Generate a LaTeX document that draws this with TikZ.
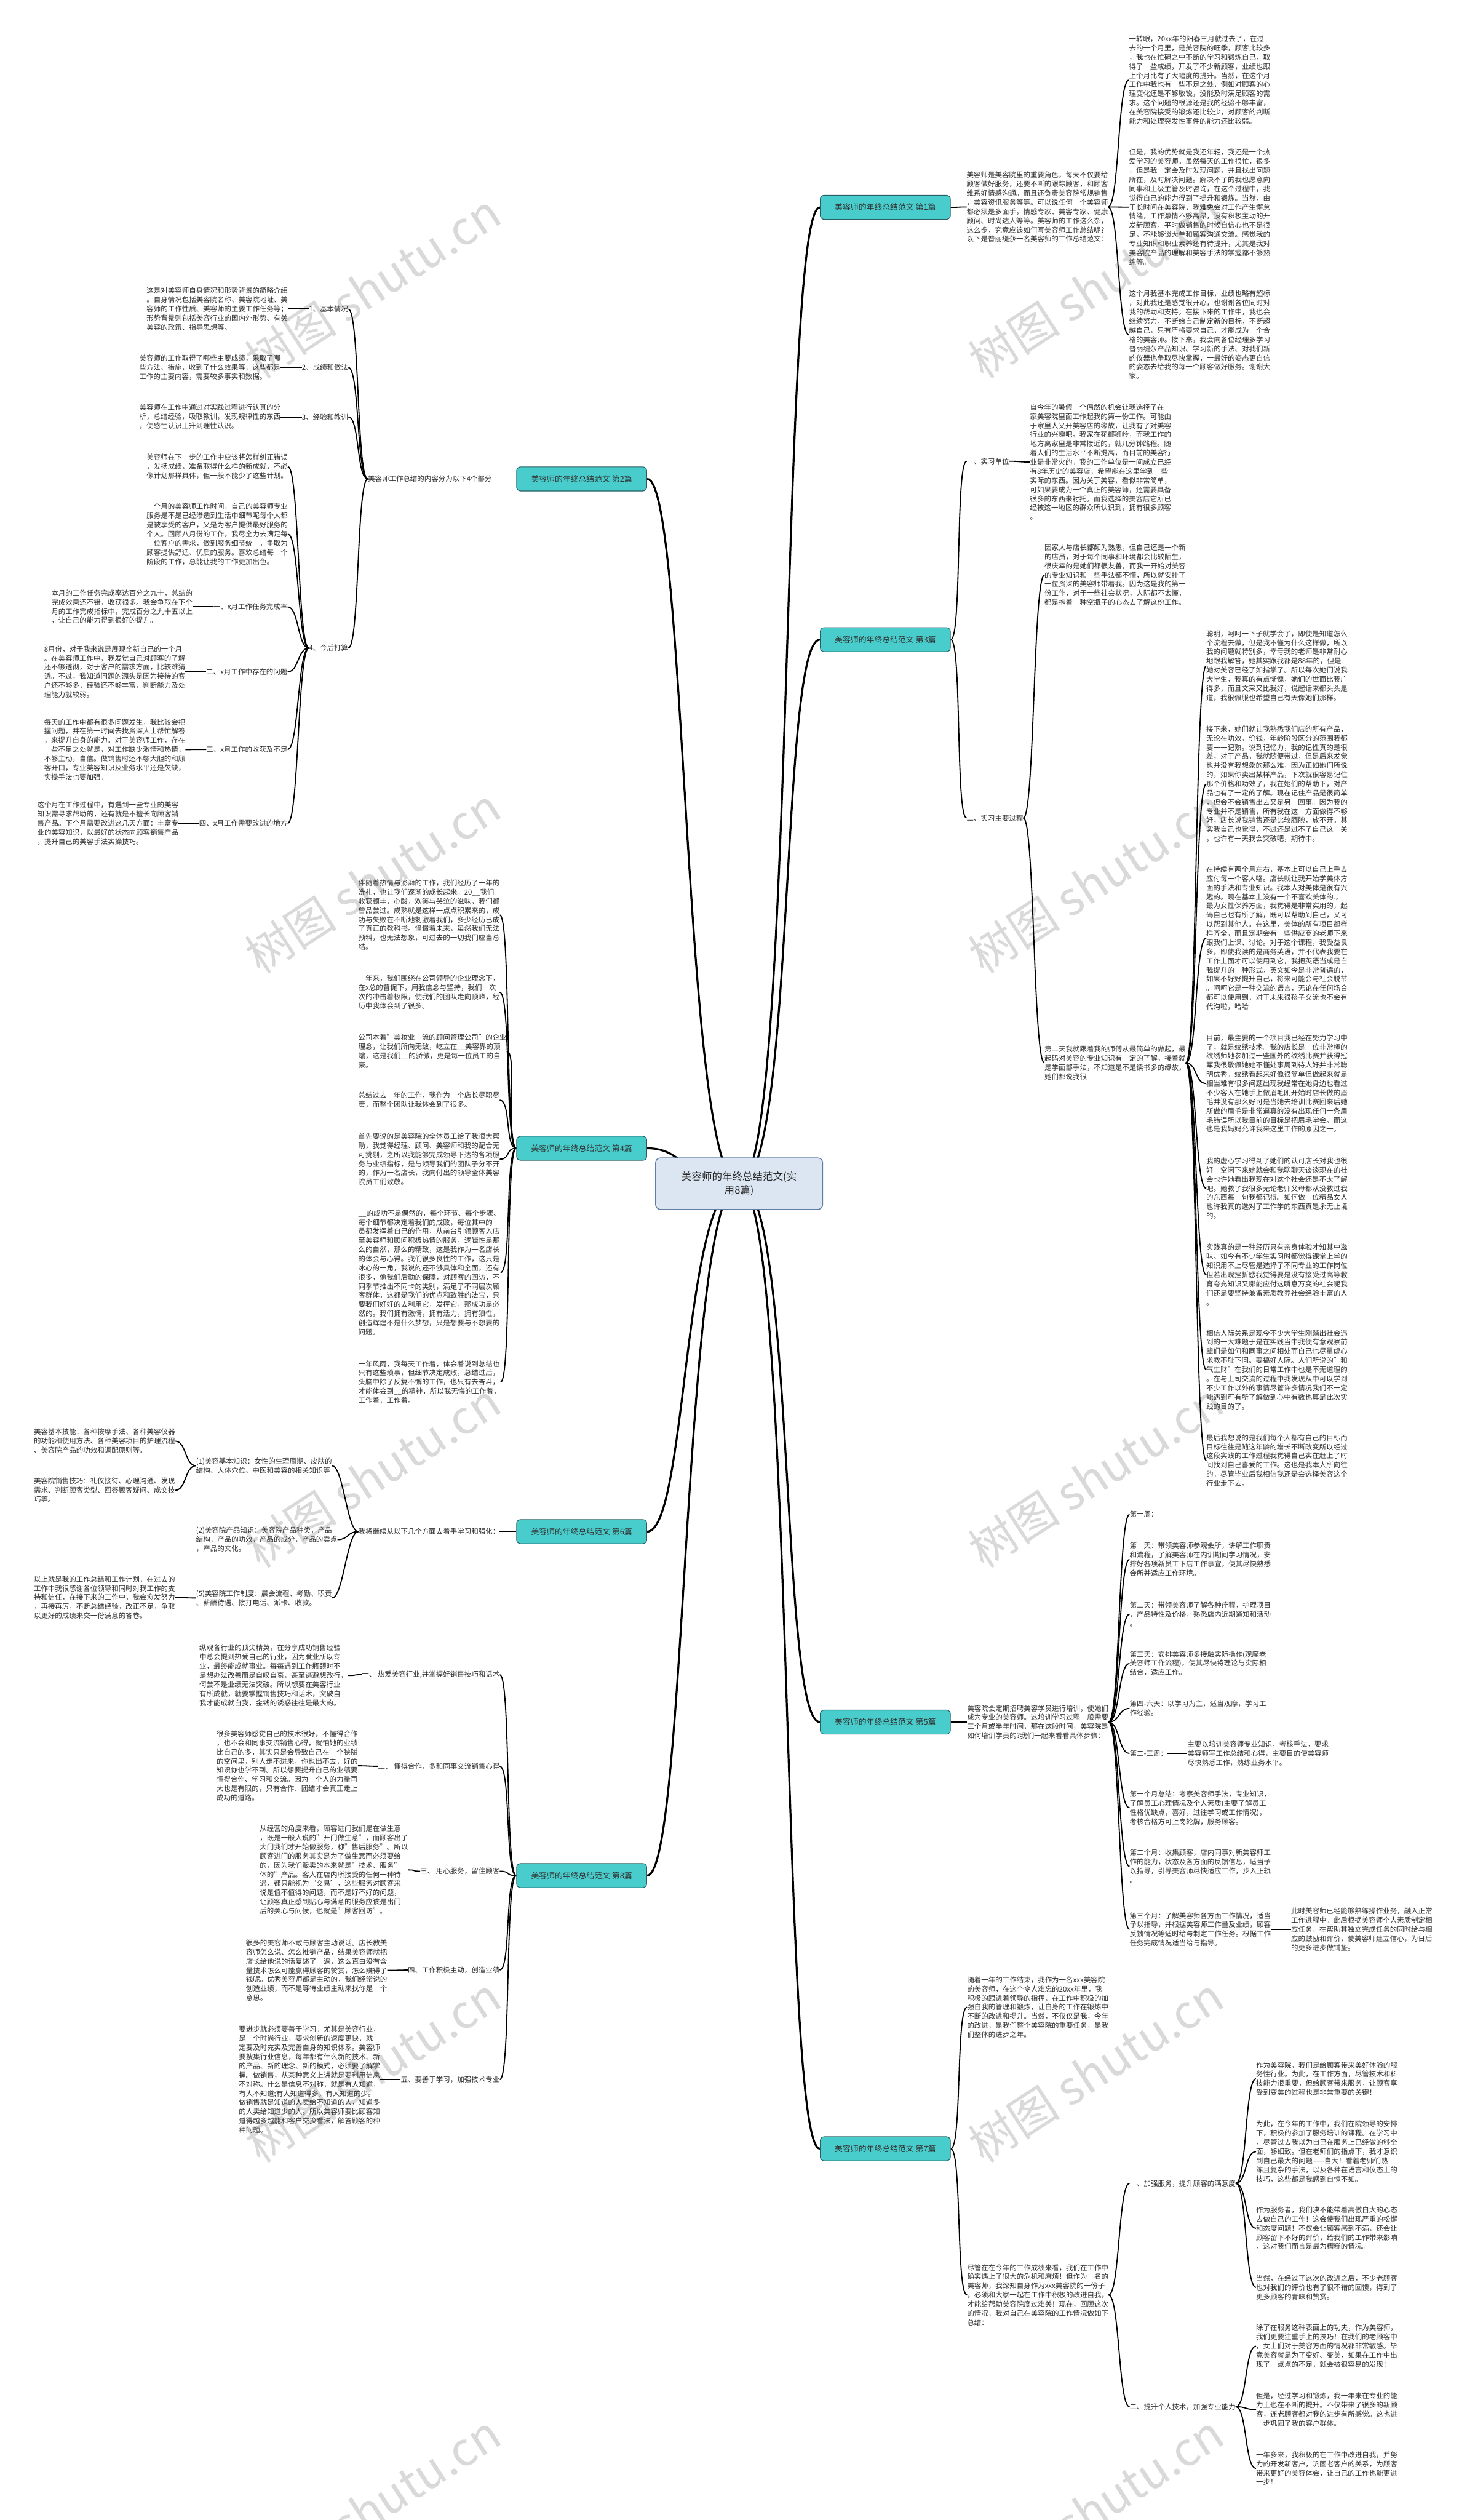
\documentclass[tikz,border=0pt]{standalone}
\usepackage{fontspec}
\setmainfont{Noto Sans CJK SC}
\definecolor{brfill}{RGB}{72,204,204}
\definecolor{brdraw}{RGB}{40,95,100}
\definecolor{rtfill}{RGB}{220,230,242}
\definecolor{rtdraw}{RGB}{95,125,165}
\definecolor{txc}{RGB}{45,45,45}
\pgfdeclarelayer{wm}\pgfdeclarelayer{bg}\pgfsetlayers{wm,bg,main}
\tikzset{
  tx/.style={font=\fontsize{12.5pt}{16.2pt}\selectfont, align=left, inner sep=0pt, anchor=west, text=txc},
  tr/.style={font=\fontsize{12.5pt}{16.2pt}\selectfont, align=left, inner sep=0pt, anchor=east, text=txc},
  branch/.style={draw=brdraw, fill=brfill, line width=1.2pt, rounded corners=2.5mm, minimum width=81mm, minimum height=15mm, inner sep=0pt, font=\fontsize{14pt}{16pt}\selectfont, text=black!80},
  rootnode/.style={draw=rtdraw, fill=rtfill, line width=1.5pt, rounded corners=3mm, minimum width=104mm, minimum height=32mm, inner sep=0pt, align=center, font=\fontsize{18pt}{24pt}\selectfont, text=black!85},
  conn/.style={line width=2pt, draw=black},
  mainc/.style={line width=3.5pt, draw=black},
  wmark/.style={text=black!15, font=\fontsize{82pt}{90pt}\selectfont, rotate=33, inner sep=0pt}
}
\newcommand\RConn[2]{\draw[conn] (#1.east) .. controls +(7,0) and +(-7,0) .. (#2.west);}
\newcommand\LConn[2]{\draw[conn] (#1.west) .. controls +(-7,0) and +(7,0) .. (#2.east);}
\begin{document}
\begin{tikzpicture}[x=1mm,y=-1mm]
\begin{pgfonlayer}{wm}
\fill[white] (0,0) rectangle (913,1568);
\useasboundingbox (0,0) rectangle (913,1568);
\begin{scope}
\clip (0,0) rectangle (913,1568);
\foreach \yy in {178,548,918,1288,1560}{
  \node[wmark] (wl\yy) at (232,\yy) {树图 shutu.cn};
  \node[wmark] (wr\yy) at (682,\yy) {树图 shutu.cn};
}
\end{scope}
\end{pgfonlayer}

% root
\node[rootnode] (root) at (460,736.5) {美容师的年终总结范文(实\\用8篇)};

% branches
\node[branch] (b1) at (551,129) {美容师的年终总结范文 第1篇};
\node[branch] (b2) at (362,298) {美容师的年终总结范文 第2篇};
\node[branch] (b3) at (551,398) {美容师的年终总结范文 第3篇};
\node[branch] (b4) at (362,714.5) {美容师的年终总结范文 第4篇};
\node[branch] (b6) at (362,953) {美容师的年终总结范文 第6篇};
\node[branch] (b5) at (551,1071.5) {美容师的年终总结范文 第5篇};
\node[branch] (b8) at (362,1167) {美容师的年终总结范文 第8篇};
\node[branch] (b7) at (551,1337) {美容师的年终总结范文 第7篇};

% ===== 第1篇 =====
\node[tx] (p1i) at (601.6,128.8) {美容师是美容院里的重要角色，每天不仅要给\\顾客做好服务，还要不断的跟踪顾客，和顾客\\维系好情感沟通。而且还负责美容院常规销售\\，美容资讯服务等等。可以说任何一个美容师\\都必须是多面手，情感专家、美容专家、健康\\顾问、时尚达人等等。美容师的工作这么杂，\\这么多，究竟应该如何写美容师工作总结呢?\\以下是普丽缇莎一名美容师的工作总结范文：};
\node[tx] (p1a) at (702.6,49.8) {一转眼，20xx年的阳春三月就过去了，在过\\去的一个月里，是美容院的旺季，顾客比较多\\，我也在忙碌之中不断的学习和锻炼自己，取\\得了一些成绩，开发了不少新顾客，业绩也跟\\上个月比有了大幅度的提升。当然，在这个月\\工作中我也有一些不足之处，例如对顾客的心\\理变化还是不够敏锐，没能及时满足顾客的需\\求。这个问题的根源还是我的经验不够丰富，\\在美容院接受的锻炼还比较少，对顾客的判断\\能力和处理突发性事件的能力还比较弱。};
\node[tx] (p1b) at (702.6,128.9) {但是，我的优势就是我还年轻，我还是一个热\\爱学习的美容师。虽然每天的工作很忙，很多\\，但是我一定会及时发现问题，并且找出问题\\所在，及时解决问题。解决不了的我也愿意向\\同事和上级主管及时咨询，在这个过程中，我\\觉得自己的能力得到了提升和锻炼。当然，由\\于长时间在美容院，我难免会对工作产生懈怠\\情绪，工作激情不够高昂，没有积极主动的开\\发新顾客，平时做销售的时候自信心也不是很\\足，不能够谈大单和顾客沟通交流。感觉我的\\专业知识和职业素养还有待提升，尤其是我对\\美容院产品的理解和美容手法的掌握都不够熟\\练等。};
\node[tx] (p1c) at (702.6,208.4) {这个月我基本完成工作目标，业绩也略有超标\\，对此我还是感觉很开心，也谢谢各位同时对\\我的帮助和支持。在接下来的工作中，我也会\\继续努力，不断给自己制定新的目标，不断超\\越自己，只有严格要求自己，才能成为一个合\\格的美容师。接下来，我会向各位经理多学习\\普丽缇莎产品知识、学习新的手法、对我们新\\的仪器也争取尽快掌握，一最好的姿态更自信\\的姿态去给我的每一个顾客做好服务。谢谢大\\家。};

% ===== 第2篇 =====
\node[tx] (p2) at (228.9,298) {美容师工作总结的内容分为以下4个部分};
\node[tr] (p2s1) at (216.8,192.3) {1、基本情况};
\node[tr] (p2s2) at (216.8,228.7) {2、成绩和做法};
\node[tr] (p2s3) at (216.8,259.4) {3、经验和教训};
\node[tr] (p2s4) at (216.8,403.2) {4、今后打算};
\node[tx] (p2t1) at (91.2,192.3) {这是对美容师自身情况和形势背景的简略介绍\\。自身情况包括美容院名称、美容院地址、美\\容师的工作性质、美容师的主要工作任务等；\\形势背景则包括美容行业的国内外形势、有关\\美容的政策、指导思想等。};
\node[tx] (p2t2) at (86.7,228.7) {美容师的工作取得了哪些主要成绩，采取了哪\\些方法、措施，收到了什么效果等，这些都是\\工作的主要内容，需要较多事实和数据。};
\node[tx] (p2t3) at (86.7,259.4) {美容师在工作中通过对实践过程进行认真的分\\析，总结经验，吸取教训，发现规律性的东西\\，使感性认识上升到理性认识。};
\node[tx] (p2a) at (91.2,290.4) {美容师在下一步的工作中应该将怎样纠正错误\\，发扬成绩，准备取得什么样的新成就，不必\\像计划那样具体，但一般不能少了这些计划。};
\node[tx] (p2b) at (91.2,332.4) {一个月的美容师工作时间，自己的美容师专业\\服务是不是已经渗透到生活中细节呢每个人都\\是被享受的客户，又是为客户提供最好服务的\\个人。回顾八月份的工作，我尽全力去满足每\\一位客户的需求，做到服务细节统一，争取为\\顾客提供舒适、优质的服务。喜欢总结每一个\\阶段的工作，总能让我的工作更加出色。};
\node[tr] (p2c) at (179,377.6) {一、x月工作任务完成率};
\node[tr] (p2d) at (179,418) {二、x月工作中存在的问题};
\node[tr] (p2e) at (179,466.3) {三、x月工作的收获及不足};
\node[tr] (p2f) at (179,512.3) {四、x月工作需要改进的地方};
\node[tx] (p2ct) at (31.9,377.6) {本月的工作任务完成率达百分之九十，总结的\\完成效果还不错，收获很多。我会争取在下个\\月的工作完成指标中，完成百分之九十五以上\\，让自己的能力得到很好的提升。};
\node[tx] (p2dt) at (27.4,418) {8月份，对于我来说是展现全新自己的一个月\\。在美容师工作中，我发觉自己对顾客的了解\\还不够透彻，对于客户的需求方面，比较难猜\\透。不过，我知道问题的源头是因为接待的客\\户还不够多，经验还不够丰富，判断能力及处\\理能力就较弱。};
\node[tx] (p2et) at (27.4,466.4) {每天的工作中都有很多问题发生，我比较会把\\握问题，并在第一时间去找资深人士帮忙解答\\，来提升自身的能力。对于美容师工作，存在\\一些不足之处就是，对工作缺少激情和热情，\\不够主动，自信。做销售时还不够大胆的和顾\\客开口，专业美容知识及业务水平还是欠缺，\\实操手法也要加强。};
\node[tx] (p2ft) at (23.1,512.3) {这个月在工作过程中，有遇到一些专业的美容\\知识需寻求帮助的，还有就是不擅长向顾客销\\售产品。下个月需要改进这几天方面：丰富专\\业的美容知识，以最好的状态向顾客销售产品\\，提升自己的美容手法实操技巧。};

% ===== 第3篇 =====
\node[tx] (p3s1) at (601.6,287) {一、实习单位};
\node[tx] (p3s2) at (601.6,509) {二、实习主要过程};
\node[tx] (p3s1t) at (641,287.5) {自今年的暑假一个偶然的机会让我选择了在一\\家美容院里面工作起我的第一份工作。可能由\\于家里人又开美容店的缘故，让我有了对美容\\行业的兴趣吧。我家在花都狮岭，而我工作的\\地方离家里是非常接近的，就几分钟路程。随\\着人们的生活水平不断提高，而目前的美容行\\业是非常火的。我的工作单位是一间成立已经\\有8年历史的美容店，希望能在这里学到一些\\实际的东西。因为关于美容，看似非常简单，\\可如果要成为一个真正的美容师，还需要具备\\很多的东西来衬托。而我选择的美容店它所已\\经被这一地区的群众所认识到，拥有很多顾客\\。};
\node[tx] (p3a) at (650,357.8) {因家人与店长都颇为熟悉，但自己还是一个新\\的店员，对于每个同事和环境都会比较陌生，\\很庆幸的是她们都很友善，而我一开始对美容\\的专业知识和一些手法都不懂，所以就安排了\\一位资深的美容师带着我。因为这是我的第一\\份工作，对于一些社会状况，人际都不太懂，\\都是抱着一种空瓶子的心态去了解这份工作。};
\node[tx] (p3b) at (650,661.4) {第二天我就跟着我的师傅从最简单的做起，最\\起码对美容的专业知识有一定的了解，接着就\\是学面部手法，不知道是不是读书多的缘故，\\她们都说我很};
\node[tx] (c1) at (750.7,414.2) {聪明，呵呵一下子就学会了，即使是知道怎么\\个流程去做，但是我不懂为什么这样做，所以\\我的问题就特别多，幸亏我的老师是非常耐心\\地跟我解答，她其实跟我都是88年的，但是\\她对美容已经了如指掌了。所以每次她们说我\\大学生，我真的有点惭愧，她们的世面比我广\\得多，而且文采又比我好，说起话来都头头是\\道，我很佩服也希望自己有天像她们那样。};
\node[tx] (c2) at (750.7,487.8) {接下来，她们就让我熟悉我们店的所有产品，\\无论在功效，价钱，年龄阶段区分的范围我都\\要一一记熟。说到记忆力，我的记性真的是很\\差，对于产品，我就随便带过，但是后来发觉\\也并没有我想象的那么难，因为正如她们所说\\的，如果你卖出某样产品，下次就很容易记住\\那个价格和功效了，我在她们的帮助下，对产\\品也有了一定的了解。现在记住产品是很简单\\，但会不会销售出去又是另一回事。因为我的\\专业并不是销售，所有我在这一方面做得不够\\好，店长说我销售还是比较腼腆，放不开。其\\实我自己也觉得，不过还是过不了自己这一关\\，也许有一天我会突破吧，期待中。};
\node[tx] (c3) at (750.7,583.7) {在持续有两个月左右，基本上可以自己上手去\\应付每一个客人咯。店长就让我开始学美体方\\面的手法和专业知识。我本人对美体是很有兴\\趣的。现在基本上没有一个不喜欢美体的.，\\最为女性保养方面，我觉得是非常实用的，起\\码自己也有所了解，既可以帮助到自己，又可\\以帮到其他人。在这里，美体的所有项目都样\\样齐全，而且定期会有一些供应商的老师下来\\跟我们上课、讨论。对于这个课程，我受益良\\多，即使我读的是商务英语，并不代表我要在\\工作上面才可以使用到它，我把英语当成是自\\我提升的一种形式，英文如今是非常普遍的，\\如果不好好提升自己，将来可能会与社会脱节\\。呵呵它是一种交流的语言，无论在任何场合\\都可以使用到，对于未来很孩子交流也不会有\\代沟啦，哈哈};
\node[tx] (c4) at (750.7,674.2) {目前，最主要的一个项目我已经在努力学习中\\了，就是纹绣技术。我的店长是一位非常棒的\\纹绣师她参加过一些国外的纹绣比赛并获得冠\\军我很敬佩她她不懂处事周到待人好并非常聪\\明优秀。纹绣看起来好像很简单但做起来就是\\相当难有很多问题出现我经常在她身边也看过\\不少客人在她手上做眉毛刚开始时店长做的眉\\毛并没有那么好可是当她去培训比赛回来后她\\所做的眉毛是非常逼真的没有出现任何一条眉\\毛错误所以我目前的目标是把眉毛学会。而这\\也是我妈妈允许我来这里工作的原因之一。};
\node[tx] (c5) at (750.7,739.4) {我的虚心学习得到了她们的认可店长对我也很\\好一空闲下来她就会和我聊聊天谈谈现在的社\\会也许她看出我现在对这个社会还是不太了解\\吧。她教了我很多无论老师父母都从没教过我\\的东西每一句我都记得。如何做一位精品女人\\也许我真的选对了工作学的东西真是永无止境\\的。};
\node[tx] (c6) at (750.7,793.2) {实践真的是一种经历只有亲身体验才知其中滋\\味。如今有不少学生实习时都觉得课堂上学的\\知识用不上尽管是选择了不同专业的工作岗位\\但若出现挫折感我觉得要是没有接受过高等教\\育夸充知识又哪能应付这瞬息万变的社会呢我\\们还是要坚持兼备素质教养社会经验丰富的人\\。};
\node[tx] (c7) at (750.7,852.2) {相信人际关系是现今不少大学生刚踏出社会遇\\到的一大难题于是在实践当中我便有意观察前\\辈们是如何和同事之间相处而自己也尽量虚心\\求教不耻下问。要搞好人际。人们所说的"和\\气生财"在我们的日常工作中也是不无道理的\\。在与上司交流的过程中我发现从中可以学到\\不少工作以外的事情尽管许多情况我们不一定\\能遇到可有所了解做到心中有数也算是此次实\\践的目的了。};
\node[tx] (c8) at (750.7,908.8) {最后我想说的是我们每个人都有自己的目标而\\目标往往是随这年龄的增长不断改变所以经过\\这段实践的工作过程我觉得自己实在赶上了时\\间找到自己喜爱的工作。这也是我本人所向往\\的。尽管毕业后我相信我还是会选择美容这个\\行业走下去。};

% ===== 第4篇 =====
\node[tx] (q1) at (223,569.3) {伴随着热情与澎湃的工作，我们经历了一年的\\洗礼，也让我们逐渐的成长起来。20\_\_我们\\收获颇丰，心酸，欢笑与哭泣的滋味，我们都\\曾品尝过。成熟就是这样一点点积累来的，成\\功与失败在不断地刺激着我们，多少经历已成\\了真正的教科书。憧憬着未来，虽然我们无法\\预料，也无法想象，可过去的一切我们应当总\\结。};
\node[tx] (q2) at (223,617.4) {一年来，我们围绕在公司领导的企业理念下，\\在x总的督促下，用我信念与坚持，我们一次\\次的冲击着极限，使我们的团队走向顶峰，经\\历中我体会到了很多。};
\node[tx] (q3) at (223,654) {公司本着"美妆业一流的顾问管理公司"的企业\\理念，让我们所向无敌，屹立在\_\_美容界的顶\\端，这是我们\_\_的骄傲，更是每一位员工的自\\豪。};
\node[tx] (q4) at (223,684.5) {总结过去一年的工作，我作为一个店长尽职尽\\责，而整个团队让我体会到了很多。};
\node[tx] (q5) at (223,721.3) {首先要说的是美容院的全体员工给了我很大帮\\助，我觉得经理、顾问、美容师和我的配合无\\可挑剔，之所以我能够完成领导下达的各项服\\务与业绩指标，是与领导我们的团队子分不开\\的，作为一名店长，我向付出的领导全体美容\\院员工们致敬。};
\node[tx] (q6) at (223,791.8) {\_\_的成功不是偶然的，每个环节、每个步骤、\\每个细节都决定着我们的成败，每位其中的一\\员都发挥着自己的作用，从前台引领顾客入店\\至美容师和顾问积极热情的服务，逻辑性是那\\么的自然，那么的精致，这是我作为一名店长\\的体会与心得。我们很多良性的工作，这只是\\冰心的一角，我说的还不够具体和全面，还有\\很多，像我们后勤的保障，对顾客的回访，不\\同季节推出不同卡的类别，满足了不同层次顾\\客群体，这都是我们的优点和致胜的法宝，只\\要我们好好的去利用它，发挥它，那成功是必\\然的。我们拥有激情，拥有活力，拥有狼性，\\创造辉煌不是什么梦想，只是想要与不想要的\\问题。};
\node[tx] (q7) at (223,860) {一年风雨，我每天工作着，体会着说到总结也\\只有这些琐事，但细节决定成败，总结过后，\\头脑中除了反复不懈的工作，也只有去奋斗，\\才能体会到\_\_的精神，所以我无悔的工作着，\\工作着，工作着。};

% ===== 第6篇 =====
\node[tx] (r0) at (223,953) {我将继续从以下几个方面去着手学习和强化：};
\node[tx] (r1) at (122,912) {(1)美容基本知识：女性的生理周期、皮肤的\\结构、人体穴位、中医和美容的相关知识等};
\node[tx] (r2) at (122,958) {(2)美容院产品知识：美容院产品种类，产品\\结构，产品的功效，产品的成分，产品的卖点\\，产品的文化。};
\node[tx] (r5) at (122,994.3) {(5)美容院工作制度：晨会流程、考勤、职责\\、薪酬待遇、接打电话、派卡、收款。};
\node[tx] (r1a) at (21,896.7) {美容基本技能：各种按摩手法、各种美容仪器\\的功能和使用方法、各种美容项目的护理流程\\、美容院产品的功效和调配原则等。};
\node[tx] (r1b) at (21,927.3) {美容院销售技巧：礼仪接待、心理沟通、发现\\需求、判断顾客类型、回答顾客疑问、成交技\\巧等。};
\node[tx] (r5a) at (21,994) {以上就是我的工作总结和工作计划，在过去的\\工作中我很感谢各位领导和同时对我工作的支\\持和信任，在接下来的工作中，我会愈发努力\\，再接再厉，不断总结经验，改正不足，争取\\以更好的成绩来交一份满意的答卷。};

% ===== 第5篇 =====
\node[tx] (s0) at (601.9,1071.5) {美容院会定期招聘美容学员进行培训，使她们\\成为专业的美容师。这培训学习过程一般需要\\三个月或半年时间，那在这段时间，美容院是\\如何培训学员的?我们一起来看看具体步骤：};
\node[tx] (s1) at (703,942.3) {第一周：};
\node[tx] (s2) at (703,970.3) {第一天：带领美容师参观会所，讲解工作职责\\和流程，了解美容师在内训期间学习情况，安\\排好各项新员工下店工作事宜，使其尽快熟悉\\会所并适应工作环境。};
\node[tx] (s3) at (703,1004.4) {第二天：带领美容师了解各种疗程，护理项目\\，产品特性及价格，熟悉店内近期通知和活动\\。};
\node[tx] (s4) at (703,1035) {第三天：安排美容师多接触实际操作(观摩老\\美容师工作流程)，使其尽快将理论与实际相\\结合，适应工作。};
\node[tx] (s5) at (703,1063) {第四-六天：以学习为主，适当观摩，学习工\\作经验。};
\node[tx] (s6) at (703,1091) {第二-三周：};
\node[tx] (s6a) at (739,1091) {主要以培训美容师专业知识，考核手法，要求\\美容师写工作总结和心得，主要目的使美容师\\尽快熟悉工作，熟练业务水平。};
\node[tx] (s7) at (703,1124.9) {第一个月总结：考察美容师手法，专业知识，\\了解员工心理情况及个人素质(主要了解员工\\性格优缺点，喜好，过往学习或工作情况)，\\考核合格方可上岗轮牌，服务顾客。};
\node[tx] (s8) at (703,1161.3) {第二个月：收集顾客，店内同事对新美容师工\\作的能力，状态及各方面的反馈信息，适当予\\以指导，引导美容师尽快适应工作，步入正轨\\。};
\node[tx] (s9) at (703,1200.5) {第三个月：了解美容师各方面工作情况，适当\\予以指导，并根据美容师工作量及业绩，顾客\\反馈情况等适时给与制定工作任务。根据工作\\任务完成情况适当给与指导。};
\node[tx] (s9a) at (803.5,1200.5) {此时美容师已经能够熟练操作业务，融入正常\\工作进程中。此后根据美容师个人素质制定相\\应任务，在帮助其独立完成任务的同时给与相\\应的鼓励和评价，使美容师建立信心，为日后\\的更多进步做铺垫。};

% ===== 第8篇 =====
\node[tr] (t1) at (311,1042) {一、 热爱美容行业,并掌握好销售技巧和话术};
\node[tr] (t2) at (311,1099) {二、 懂得合作，多和同事交流销售心得};
\node[tr] (t3) at (311,1164.3) {三、 用心服务，留住顾客};
\node[tr] (t4) at (311,1225.8) {四、工作积极主动，创造业绩};
\node[tr] (t5) at (311,1294) {五、要善于学习，加强技术专业};
\node[tx] (t1a) at (124,1042.5) {纵观各行业的顶尖精英，在分享成功销售经验\\中总会提到热爱自己的行业，因为爱业所以专\\业，最终能成就事业。每每遇到工作瓶颈时不\\是想办法改善而是自叹自哀，甚至逃避想改行，\\何尝不是业绩无法突破。所以想要在美容行业\\有所成就，就要掌握销售技巧和话术，突破自\\我才能成就自我，金钱的诱惑往往是最大的。};
\node[tx] (t2a) at (134.7,1098.7) {很多美容师感觉自己的技术很好，不懂得合作\\，也不会和同事交流销售心得，就怕她的业绩\\比自己的多，其实只是会导致自己在一个狭隘\\的空间里，别人走不进来，你也出不去，好的\\知识你也学不到。所以想要提升自己的业绩要\\懂得合作、学习和交流。因为一个人的力量再\\大也是有限的，只有合作、团结才会真正走上\\成功的道路。};
\node[tx] (t3a) at (161.6,1163.5) {从经营的角度来看，顾客进门我们是在做生意\\，既是一般人说的"开门做生意"，而顾客出了\\大门我们才开始做服务，称"售后服务"。所以\\顾客进门的服务其实是为了做生意而必须要给\\的，因为我们贩卖的本来就是"技术、服务"一\\体的"产品。客人在店内所接受的任何一种待\\遇，都只能视为‘交易’，这些服务对顾客来\\说是值不值得的问题，而不是好不好的问题，\\让顾客真正感到贴心与满意的服务应该是出门\\后的关心与问候，也就是"顾客回访"。};
\node[tx] (t4a) at (153,1226) {很多的美容师不敢与顾客主动说话。店长教美\\容师怎么说、怎么推销产品，结果美容师就把\\店长给他说的话复述了一遍，这么直白没有含\\量技术怎么可能赢得顾客的赞赏，怎么赚得了\\钱呢。优秀美容师都是主动的，我们经常说的\\创造业绩，而不是等待业绩主动来找你是一个\\意思。};
\node[tx] (t5a) at (148.6,1294) {要进步就必须要善于学习。尤其是美容行业，\\是一个时尚行业，要求创新的速度更快，就一\\定要及时充实及完善自身的知识体系。美容师\\要搜集行业信息，每年都有什么新的技术、新\\的产品、新的理念、新的模式，必须要了解掌\\握。做销售，从某种意义上讲就是要利用信息\\不对称。什么是信息不对称，就是有人知道，\\有人不知道;有人知道得多，有人知道的少。\\做销售就是知道的人卖给不知道的人，知道多\\的人卖给知道少的人。所以美容师要比顾客知\\道得越多越能和客户交换看法，解答顾客的种\\种问题。};

% ===== 第7篇 =====
\node[tx] (u1) at (601.9,1248.9) {随着一年的工作结束，我作为一名xxx美容院\\的美容师，在这个令人难忘的20xx年里，我\\积极的跟进着领导的指挥，在工作中积极的加\\强自我的管理和锻炼，让自身的工作在锻炼中\\不断的改进和提升。当然，不仅仅是我，今年\\的改进，是我们整个美容院的重要任务，是我\\们整体的进步之年。};
\node[tx] (u2) at (601.9,1428) {尽管在在今年的工作成绩来看，我们在工作中\\确实遇上了很大的危机和麻烦！但作为一名的\\美容师，我深知自身作为xxx美容院的一份子\\，必须和大家一起在工作中积极的改进自我，\\才能给帮助美容院度过难关！现在，回顾这次\\的情况，我对自己在美容院的工作情况做如下\\总结：};
\node[tx] (u3) at (703,1358.5) {一、加强服务，提升顾客的满意度};
\node[tx] (u4) at (703,1497.5) {二、提升个人技术，加强专业能力};
\node[tx] (g1) at (781.7,1293.5) {作为美容院，我们是给顾客带来美好体验的服\\务性行业。为此，在工作方面，尽管技术和科\\技能力很重要，但给顾客带来服务，让顾客享\\受到变美的过程也是非常重要的关键！};
\node[tx] (g2) at (781.7,1338.8) {为此，在今年的工作中，我们在院领导的安排\\下，积极的参加了服务培训的课程。在学习中\\，尽管过去我以为自己在服务上已经做的够全\\面，够细致。但在老师们的指点下，我才意识\\到自己最大的问题——自大！看着老师们熟\\练且复杂的手法，以及各种在语言和仪态上的\\技巧，这些都是我感到自愧不如。};
\node[tx] (g3) at (781.7,1386.5) {作为服务者，我们决不能带着高傲自大的心态\\去做自己的工作！这会使我们出现严重的松懈\\和态度问题！不仅会让顾客感到不满，还会让\\顾客留下不好的评价，给我们的工作带来影响\\，这对我们而言是最为糟糕的情况。};
\node[tx] (g4) at (781.7,1423.2) {当然，在经过了这次的改进之后，不少老顾客\\也对我们的评价也有了很不错的回馈，得到了\\更多顾客的青睐和赞赏。};
\node[tx] (g5) at (781.7,1459.8) {除了在服务这种表面上的功夫，作为美容师，\\我们更要注重手上的技巧！在我们的老顾客中\\，女士们对于美容方面的情况都非常敏感。毕\\竟美容就是为了变好、变美，如果在工作中出\\现了一点点的不足，就会被很容易的发现！};
\node[tx] (g6) at (781.7,1499.3) {但是，经过学习和锻炼，我一年来在专业的能\\力上也在不断的提升。不仅带来了很多的新顾\\客，连老顾客都对我的进步有所感觉。这也进\\一步巩固了我的客户群体。};
\node[tx] (g7) at (781.7,1535.9) {一年多来，我积极的在工作中改进自我，并努\\力的开发新客户，巩固老客户的关系，为顾客\\带来更好的美容体会，让自己的工作也能更进\\一步！};

% ===== connectors =====
\begin{pgfonlayer}{bg}
\foreach \b in {b1,b3,b5,b7}{\draw[mainc] (root.center) .. controls +(35,0) and +(-25,0) .. (\b.west);}
\foreach \b in {b2,b4,b6,b8}{\draw[mainc] (root.center) .. controls +(-35,0) and +(25,0) .. (\b.east);}
\RConn{b1}{p1i}
\foreach \c in {p1a,p1b,p1c}{\RConn{p1i}{\c}}
\LConn{b2}{p2}
\foreach \c in {p2s1,p2s2,p2s3,p2s4}{\LConn{p2}{\c}}
\LConn{p2s1}{p2t1}\LConn{p2s2}{p2t2}\LConn{p2s3}{p2t3}
\foreach \c in {p2a,p2b,p2c,p2d,p2e,p2f}{\LConn{p2s4}{\c}}
\LConn{p2c}{p2ct}\LConn{p2d}{p2dt}\LConn{p2e}{p2et}\LConn{p2f}{p2ft}
\RConn{b3}{p3s1}\RConn{b3}{p3s2}\RConn{p3s1}{p3s1t}
\RConn{p3s2}{p3a}\RConn{p3s2}{p3b}
\foreach \c in {c1,c2,c3,c4,c5,c6,c7,c8}{\RConn{p3b}{\c}}
\foreach \c in {q1,q2,q3,q4,q5,q6,q7}{\LConn{b4}{\c}}
\LConn{b6}{r0}
\foreach \c in {r1,r2,r5}{\LConn{r0}{\c}}
\LConn{r1}{r1a}\LConn{r1}{r1b}\LConn{r5}{r5a}
\RConn{b5}{s0}
\foreach \c in {s1,s2,s3,s4,s5,s6,s7,s8,s9}{\RConn{s0}{\c}}
\RConn{s6}{s6a}\RConn{s9}{s9a}
\foreach \c in {t1,t2,t3,t4,t5}{\LConn{b8}{\c}}
\LConn{t1}{t1a}\LConn{t2}{t2a}\LConn{t3}{t3a}\LConn{t4}{t4a}\LConn{t5}{t5a}
\RConn{b7}{u1}\RConn{b7}{u2}
\RConn{u2}{u3}\RConn{u2}{u4}
\foreach \c in {g1,g2,g3,g4}{\RConn{u3}{\c}}
\foreach \c in {g5,g6,g7}{\RConn{u4}{\c}}
\end{pgfonlayer}
\end{tikzpicture}
\end{document}
